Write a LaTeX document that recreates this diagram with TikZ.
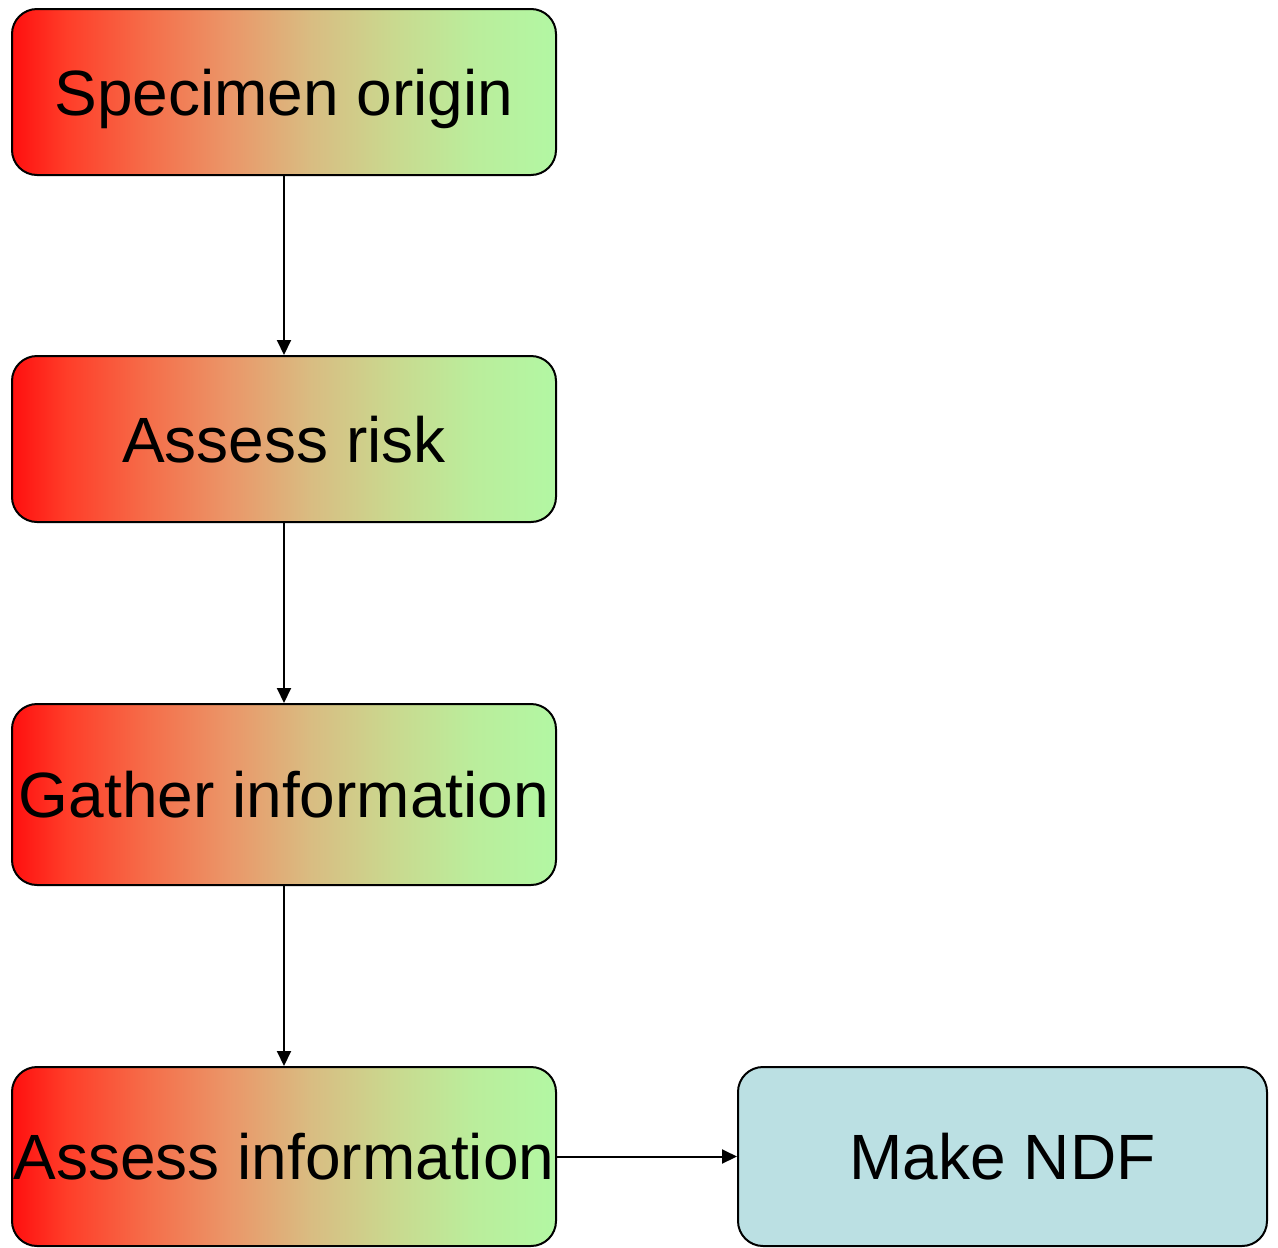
\documentclass[tikz,border=0pt]{standalone}
\usepackage{fontspec}
\setmainfont{Liberation Sans}
\usetikzlibrary{arrows.meta}
\definecolor{ndfblue}{RGB}{187,224,227}
% red-to-green fade across the stage boxes (path spans 25bp..75bp)
\pgfdeclarehorizontalshading{stagefade}{100bp}{%
  rgb(0bp)=(1,0.06,0.06);
  rgb(25bp)=(1,0.06,0.06);
  rgb(30bp)=(1,0.24,0.16);
  rgb(37.5bp)=(0.96,0.43,0.29);
  rgb(45bp)=(0.92,0.59,0.41);
  rgb(52.5bp)=(0.85,0.74,0.51);
  rgb(60bp)=(0.79,0.85,0.56);
  rgb(67.5bp)=(0.73,0.93,0.61);
  rgb(75bp)=(0.70,0.97,0.64);
  rgb(100bp)=(0.70,0.97,0.64)}
\tikzset{
  stage/.style={draw=black, line width=2pt, rounded corners=25pt,
    shading=stagefade, minimum width=544pt, inner sep=0pt,
    text height=46pt, text depth=0pt,
    font=\fontsize{64}{72}\selectfont},
  result/.style={draw=black, line width=2pt, rounded corners=25pt, fill=ndfblue,
    minimum width=529pt, minimum height=179pt, inner sep=0pt,
    text height=46pt, text depth=0pt,
    font=\fontsize{64}{72}\selectfont},
  flow/.style={line width=2pt, -{Triangle[length=15pt,width=14pt]}}
}
\begin{document}
\begin{tikzpicture}[x=1pt,y=-1pt]
\useasboundingbox (0,0) rectangle (1278,1248);
\node[stage, minimum height=166pt] (origin) at (284,92) {Specimen origin};
\node[stage, minimum height=166pt] (risk) at (284,439) {Assess risk};
\node[stage, minimum height=181pt] (gather) at (284,794.5) {Gather information};
\node[stage, minimum height=179pt] (assess) at (284,1156.5) {Assess information};
\node[result] (ndf) at (1002.5,1156.5) {Make NDF};
\draw[flow] (origin) -- (risk);
\draw[flow] (risk) -- (gather);
\draw[flow] (gather) -- (assess);
\draw[flow] (assess) -- (ndf);
\end{tikzpicture}
\end{document}
